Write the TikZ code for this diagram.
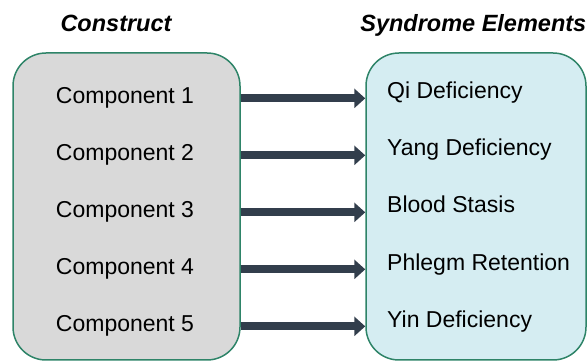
\documentclass[tikz,border=0pt]{standalone}
\usepackage{fontspec}
\setmainfont{Liberation Sans}
\usepackage{xcolor}
\usetikzlibrary{arrows.meta,calc}
\definecolor{rahmen}{HTML}{2E8468}
\definecolor{grau}{HTML}{D9D9D9}
\definecolor{hellblau}{HTML}{D5EDF2}
\definecolor{pfeil}{HTML}{323E4C}
\newcommand{\Schrift}{\fontsize{23}{27}\selectfont}
\newcommand{\Titelschrift}{\fontsize{23.5}{28}\selectfont}

\begin{document}
\begin{tikzpicture}[x=1pt,y=-1pt,
    kasten/.style={draw=rahmen,line width=1.5pt,rounded corners=33pt,minimum height=307pt,inner sep=0pt},
    titel/.style={font=\Titelschrift\bfseries\itshape,anchor=base,inner sep=0pt},
    eintrag/.style={font=\Schrift,anchor=base,inner sep=0pt},
    verbindung/.style={pfeil,line width=8pt,-{Triangle[length=11pt,width=19pt]}}]
  \useasboundingbox (0,0) rectangle (587,363);
  % Ueberschriften
  \node[titel] (titelkonstrukt) at (116,32) {Construct};
  \node[titel,anchor=base east] (titelelemente) at (586.5,32) {Syndrome Elements};
  % Kaesten
  \node[kasten,fill=grau,minimum width=227pt] (konstrukt) at (126.5,206.5) {};
  \node[kasten,fill=hellblau,minimum width=220pt] (elemente) at (476,206.5) {};
  % linke Seite: Komponenten
  \node[eintrag] (k1) at (125,104) {Component 1};
  \node[eintrag] (k2) at (125,161) {Component 2};
  \node[eintrag] (k3) at (125,218) {Component 3};
  \node[eintrag] (k4) at (125,275) {Component 4};
  \node[eintrag] (k5) at (125,332) {Component 5};
  % rechte Seite: Syndromelemente
  \node[eintrag,anchor=base west] (s1) at (387,99) {Qi Deficiency};
  \node[eintrag,anchor=base west] (s2) at (387,156) {Yang Deficiency};
  \node[eintrag,anchor=base west] (s3) at (387,213) {Blood Stasis};
  \node[eintrag,anchor=base west] (s4) at (387,271) {Phlegm Retention};
  \node[eintrag,anchor=base west] (s5) at (387,328) {Yin Deficiency};
  % Pfeile
  \foreach \i in {1,...,5}
    \draw[verbindung] (k\i.center -| konstrukt.east) -- (k\i.center -| elemente.west);
\end{tikzpicture}
\end{document}
